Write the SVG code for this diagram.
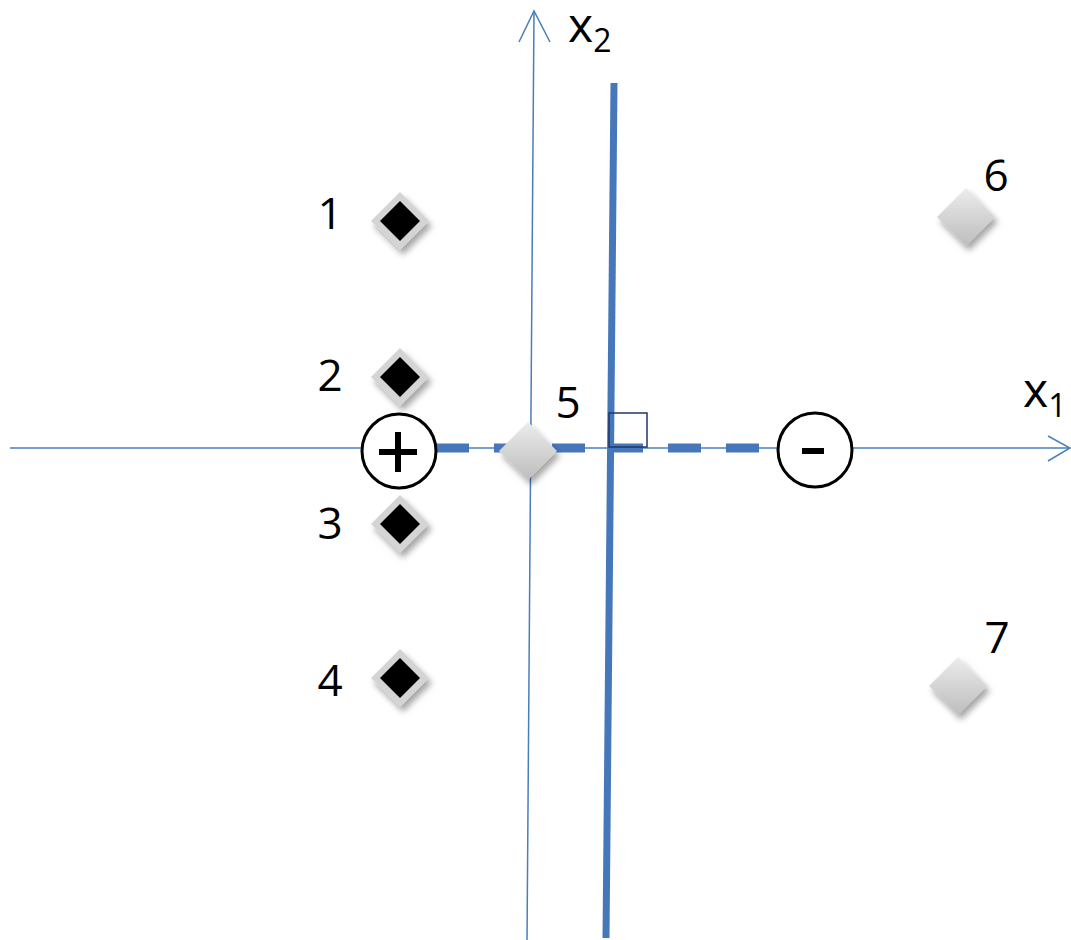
<svg xmlns="http://www.w3.org/2000/svg" width="1071" height="940" viewBox="0 0 1071 940">
<style>
.axis{stroke:#4a7ebb;stroke-width:1.5;fill:none}
.thick{stroke:#4677ba;stroke-width:7;fill:none}
.dash{stroke:#4677ba;stroke-width:9;stroke-dasharray:33 25;fill:none}
.lbl{font-family:"Open Sans","Liberation Sans",sans-serif;font-size:44px;fill:#000}
.ax{font-size:48px}
.sub{font-size:32px}
.circ{fill:#fff;stroke:#000;stroke-width:3}
.sign{stroke:#000;stroke-width:6;stroke-linecap:butt}
</style>
<defs>
<linearGradient id="g" x1="0" y1="0" x2="0" y2="1">
<stop offset="0" stop-color="#ececec"/>
<stop offset="1" stop-color="#bdbdbd"/>
</linearGradient>
<filter id="sh" x="-50%" y="-50%" width="200%" height="200%">
<feDropShadow dx="3" dy="5" stdDeviation="3" flood-color="#000" flood-opacity="0.35"/>
</filter>
<path id="dm" d="M0,-29 L29,0 L0,29 L-29,0 Z"/>
<path id="dk" d="M0,-20 L20,0 L0,20 L-20,0 Z"/>
</defs>
<g id="connectors">
<line class="axis" x1="10" y1="448" x2="1069" y2="448"/>
<polyline class="axis" points="1048,436 1070,448 1048,461"/>
<line class="axis" x1="534" y1="11" x2="527" y2="940"/>
<polyline class="axis" points="519,42 534,11 550,42"/>
<line class="dash" x1="436" y1="448" x2="780" y2="448"/>
<line class="thick" x1="614" y1="83" x2="606" y2="938"/>
<rect x="609" y="413" width="38" height="34" fill="none" stroke="#1f3864" stroke-width="1.5"/>
</g>
<g id="plus">
<circle class="circ" cx="399" cy="451" r="37"/>
<line class="sign" x1="379" y1="452" x2="417" y2="452"/>
<line class="sign" x1="398" y1="432" x2="398" y2="472"/>
</g>
<g id="minus">
<circle class="circ" cx="815" cy="450" r="37"/>
<line class="sign" x1="802" y1="451" x2="824" y2="451"/>
</g>
<g id="p1"><use href="#dm" x="400" y="221" fill="#d4d4d4" filter="url(#sh)"/><use href="#dk" x="400" y="221" fill="#000"/><text class="lbl" x="330" y="229" text-anchor="middle">1</text></g>
<g id="p2"><use href="#dm" x="400" y="377" fill="#d4d4d4" filter="url(#sh)"/><use href="#dk" x="400" y="377" fill="#000"/><text class="lbl" x="330" y="391" text-anchor="middle">2</text></g>
<g id="p3"><use href="#dm" x="400" y="524" fill="#d4d4d4" filter="url(#sh)"/><use href="#dk" x="400" y="524" fill="#000"/><text class="lbl" x="330" y="539" text-anchor="middle">3</text></g>
<g id="p4"><use href="#dm" x="400" y="678" fill="#d4d4d4" filter="url(#sh)"/><use href="#dk" x="400" y="678" fill="#000"/><text class="lbl" x="330" y="696" text-anchor="middle">4</text></g>
<g id="p5"><use href="#dm" x="528" y="451" fill="url(#g)" filter="url(#sh)"/><text class="lbl" x="568" y="418" text-anchor="middle">5</text></g>
<g id="p6"><use href="#dm" x="966" y="217" fill="url(#g)" filter="url(#sh)"/><text class="lbl" x="996" y="191" text-anchor="middle">6</text></g>
<g id="p7"><use href="#dm" x="958" y="686" fill="url(#g)" filter="url(#sh)"/><text class="lbl" x="997" y="653" text-anchor="middle">7</text></g>
<g id="x2label"><text class="lbl ax" x="568" y="42">x<tspan class="sub" dy="10">2</tspan></text></g>
<g id="x1label"><text class="lbl ax" x="1023" y="407">x<tspan class="sub" dy="10">1</tspan></text></g>
</svg>
